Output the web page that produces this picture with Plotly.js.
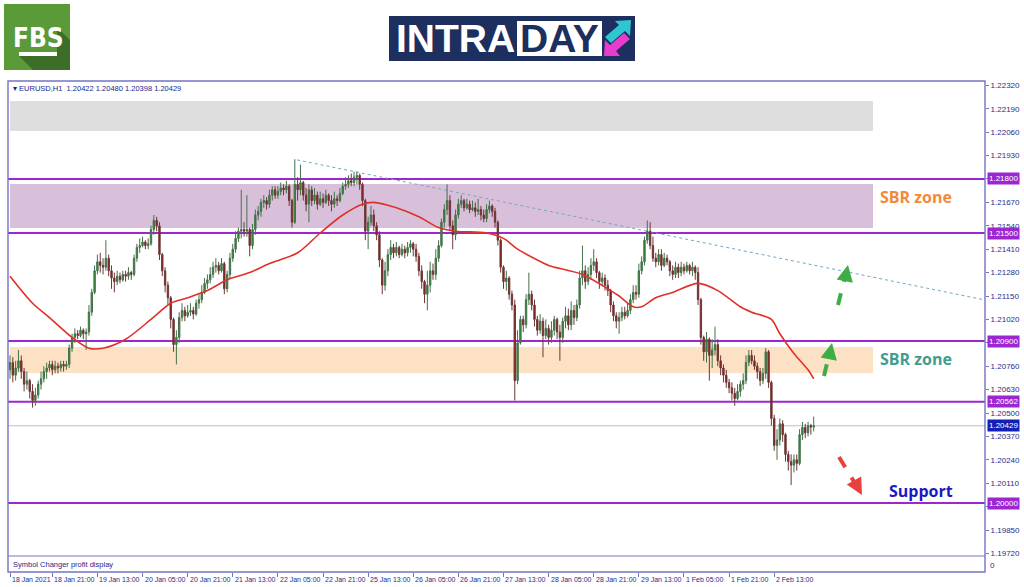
<!DOCTYPE html>
<html><head><meta charset="utf-8">
<script src="https://cdn.plot.ly/plotly-3.0.1.min.js"></script>
<style>html,body{margin:0;padding:0;background:#fff}#chart{width:1024px;height:587px}</style>
</head><body><div id="chart"></div>
<script>
// EURUSD H1 candles, 18 Jan 2021 06:00 .. 3 Feb 2021 03:00
const open = [
1.2074,1.2078,1.2071,1.2075,1.2079,1.2073,1.2066,1.2068,1.2062,1.2057,
1.2060,1.2066,1.2069,1.2073,1.2075,1.2077,1.2074,1.2076,1.2075,1.2077,
1.2076,1.2077,1.2086,1.2092,1.2094,1.2093,1.2096,1.2094,1.2095,1.2106,
1.2117,1.2129,1.2134,1.2132,1.2131,1.2136,1.2129,1.2125,1.2123,1.2126,
1.2124,1.2127,1.2126,1.2128,1.2127,1.2136,1.2142,1.2143,1.2145,1.2143,
1.2144,1.2152,1.2157,1.2154,1.2138,1.2129,1.2121,1.2114,1.2102,1.2088,
1.2092,1.2103,1.2107,1.2104,1.2106,1.2107,1.2105,1.2111,1.2113,1.2117,
1.2122,1.2124,1.2127,1.2131,1.2132,1.2129,1.2133,1.2119,1.2127,1.2136,
1.2141,1.2147,1.2151,1.2152,1.2151,1.2152,1.2143,1.2152,1.2160,1.2162,
1.2167,1.2168,1.2166,1.2171,1.2174,1.2171,1.2173,1.2175,1.2174,1.2176,
1.2168,1.2156,1.2177,1.2174,1.2178,1.2171,1.2166,1.2174,1.2168,1.2171,
1.2166,1.2169,1.2167,1.2171,1.2168,1.2166,1.2169,1.2168,1.2172,1.2176,
1.2177,1.2179,1.2178,1.2181,1.2182,1.2177,1.2168,1.2151,1.2156,1.2160,
1.2154,1.2149,1.2135,1.2121,1.2129,1.2138,1.2142,1.2139,1.2142,1.2138,
1.2141,1.2139,1.2142,1.2144,1.2141,1.2137,1.2129,1.2123,1.2116,1.2121,
1.2129,1.2127,1.2136,1.2143,1.2156,1.2163,1.2168,1.2154,1.2149,1.2160,
1.2166,1.2168,1.2164,1.2166,1.2163,1.2164,1.2162,1.2163,1.2160,1.2158,
1.2163,1.2165,1.2162,1.2156,1.2146,1.2131,1.2123,1.2125,1.2116,1.2110,
1.2068,1.2089,1.2102,1.2099,1.2113,1.2116,1.2110,1.2102,1.2096,1.2101,
1.2093,1.2097,1.2092,1.2096,1.2102,1.2095,1.2092,1.2101,1.2104,1.2099,
1.2107,1.2103,1.2110,1.2125,1.2129,1.2123,1.2127,1.2132,1.2134,1.2128,
1.2123,1.2125,1.2121,1.2118,1.2110,1.2104,1.2101,1.2103,1.2106,1.2104,
1.2107,1.2113,1.2117,1.2116,1.2129,1.2134,1.2146,1.2151,1.2143,1.2136,
1.2134,1.2138,1.2132,1.2136,1.2134,1.2129,1.2127,1.2131,1.2128,1.2131,
1.2129,1.2132,1.2129,1.2131,1.2128,1.2113,1.2092,1.2084,1.2091,1.2082,
1.2085,1.2088,1.2079,1.2075,1.2071,1.2067,1.2064,1.2061,1.2058,1.2062,
1.2066,1.2068,1.2078,1.2082,1.2079,1.2076,1.2073,1.2068,1.2072,1.2084,
1.2067,1.2047,1.2032,1.2035,1.2044,1.2038,1.2027,1.2023,1.2021,1.2024,
1.2022,1.2038,1.2042,1.2039,1.2043,1.20422];
const high = [
1.2082,1.2081,1.2079,1.2085,1.2082,1.2075,1.2073,1.2069,1.2066,1.2064,
1.2068,1.2073,1.2076,1.2078,1.2079,1.2079,1.2079,1.2078,1.2079,1.2079,
1.2079,1.2088,1.2094,1.2097,1.2096,1.2098,1.2097,1.2097,1.2110,1.2119,
1.2132,1.2138,1.2139,1.2136,1.2146,1.2138,1.2132,1.2128,1.2129,1.2128,
1.2129,1.2129,1.2131,1.2129,1.2138,1.2144,1.2147,1.2148,1.2146,1.2147,
1.2154,1.2160,1.2159,1.2156,1.2139,1.2131,1.2123,1.2115,1.2103,1.2096,
1.2106,1.2111,1.2109,1.2110,1.2111,1.2109,1.2113,1.2116,1.2121,1.2125,
1.2127,1.2131,1.2134,1.2136,1.2134,1.2136,1.2134,1.2129,1.2139,1.2144,
1.2151,1.2153,1.2174,1.2156,1.2171,1.2153,1.2155,1.2163,1.2165,1.2169,
1.2171,1.2170,1.2174,1.2176,1.2176,1.2176,1.2178,1.2177,1.2179,1.2177,
1.2169,1.2191,1.2181,1.2188,1.2179,1.2175,1.2177,1.2176,1.2175,1.2173,
1.2173,1.2172,1.2174,1.2172,1.2171,1.2173,1.2171,1.2175,1.2178,1.2181,
1.2182,1.2183,1.2184,1.2184,1.2183,1.2178,1.2169,1.2159,1.2165,1.2163,
1.2156,1.2151,1.2136,1.2134,1.2141,1.2146,1.2144,1.2145,1.2143,1.2144,
1.2143,1.2145,1.2146,1.2145,1.2144,1.2139,1.2132,1.2124,1.2129,1.2134,
1.2133,1.2141,1.2146,1.2158,1.2166,1.2177,1.2171,1.2157,1.2163,1.2169,
1.2171,1.2169,1.2169,1.2168,1.2168,1.2167,1.2169,1.2165,1.2163,1.2166,
1.2168,1.2166,1.2164,1.2157,1.2147,1.2132,1.2129,1.2126,1.2118,1.2113,
1.2096,1.2104,1.2104,1.2116,1.2128,1.2118,1.2113,1.2104,1.2105,1.2103,
1.2102,1.2099,1.2101,1.2104,1.2103,1.2099,1.2103,1.2109,1.2108,1.2112,
1.2110,1.2113,1.2129,1.2143,1.2132,1.2131,1.2136,1.2141,1.2136,1.2129,
1.2128,1.2127,1.2124,1.2119,1.2112,1.2106,1.2106,1.2109,1.2109,1.2111,
1.2116,1.2121,1.2121,1.2133,1.2137,1.2148,1.2157,1.2156,1.2148,1.2139,
1.2141,1.2141,1.2139,1.2138,1.2135,1.2132,1.2134,1.2133,1.2134,1.2133,
1.2134,1.2133,1.2134,1.2132,1.2131,1.2114,1.2093,1.2095,1.2092,1.2091,
1.2098,1.2091,1.2082,1.2077,1.2074,1.2069,1.2067,1.2064,1.2066,1.2068,
1.2072,1.2082,1.2085,1.2085,1.2082,1.2078,1.2075,1.2075,1.2086,1.2085,
1.2068,1.2049,1.2041,1.2047,1.2046,1.2039,1.2029,1.2027,1.2027,1.2027,
1.2041,1.2045,1.2044,1.2045,1.2044,1.20480];
const low = [
1.2069,1.2067,1.2068,1.2073,1.2069,1.2062,1.2063,1.2058,1.2053,1.2054,
1.2058,1.2063,1.2067,1.2069,1.2073,1.2071,1.2072,1.2072,1.2073,1.2073,
1.2074,1.2075,1.2084,1.2089,1.2091,1.2092,1.2091,1.2085,1.2093,1.2104,
1.2116,1.2127,1.2128,1.2127,1.2129,1.2126,1.2119,1.2117,1.2121,1.2122,
1.2123,1.2123,1.2124,1.2124,1.2126,1.2134,1.2139,1.2142,1.2141,1.2141,
1.2143,1.2149,1.2151,1.2135,1.2126,1.2117,1.2110,1.2097,1.2084,1.2077,
1.2089,1.2101,1.2101,1.2103,1.2104,1.2102,1.2104,1.2108,1.2111,1.2116,
1.2119,1.2122,1.2125,1.2128,1.2127,1.2128,1.2116,1.2117,1.2125,1.2134,
1.2139,1.2145,1.2147,1.2148,1.2148,1.2137,1.2141,1.2149,1.2157,1.2159,
1.2164,1.2163,1.2164,1.2168,1.2169,1.2169,1.2171,1.2171,1.2172,1.2165,
1.2153,1.2155,1.2168,1.2171,1.2168,1.2162,1.2156,1.2165,1.2166,1.2163,
1.2165,1.2164,1.2166,1.2165,1.2162,1.2164,1.2165,1.2167,1.2171,1.2174,
1.2175,1.2176,1.2176,1.2177,1.2174,1.2165,1.2146,1.2141,1.2154,1.2151,
1.2146,1.2131,1.2116,1.2118,1.2126,1.2135,1.2136,1.2137,1.2136,1.2137,
1.2136,1.2137,1.2139,1.2137,1.2134,1.2126,1.2119,1.2111,1.2107,1.2117,
1.2124,1.2124,1.2134,1.2142,1.2153,1.2160,1.2151,1.2141,1.2146,1.2158,
1.2164,1.2162,1.2163,1.2161,1.2162,1.2159,1.2160,1.2157,1.2156,1.2156,
1.2161,1.2159,1.2153,1.2143,1.2128,1.2119,1.2118,1.2113,1.2107,1.2057,
1.2066,1.2088,1.2095,1.2097,1.2110,1.2107,1.2098,1.2093,1.2094,1.2081,
1.2091,1.2088,1.2089,1.2093,1.2091,1.2079,1.2089,1.2097,1.2096,1.2096,
1.2099,1.2101,1.2108,1.2121,1.2119,1.2121,1.2124,1.2129,1.2125,1.2119,
1.2121,1.2118,1.2115,1.2106,1.2101,1.2097,1.2094,1.2101,1.2102,1.2103,
1.2105,1.2111,1.2113,1.2114,1.2127,1.2132,1.2144,1.2141,1.2134,1.2131,
1.2132,1.2129,1.2131,1.2132,1.2126,1.2124,1.2125,1.2125,1.2126,1.2127,
1.2128,1.2127,1.2126,1.2124,1.2110,1.2088,1.2079,1.2078,1.2068,1.2075,
1.2082,1.2076,1.2071,1.2067,1.2064,1.2061,1.2057,1.2054,1.2057,1.2059,
1.2063,1.2066,1.2076,1.2077,1.2074,1.2069,1.2065,1.2066,1.2069,1.2064,
1.2043,1.2029,1.2024,1.2032,1.2034,1.2023,1.2018,1.2010,1.2017,1.2018,
1.2021,1.2035,1.2036,1.2037,1.2038,1.20398];
const close = [
1.2078,1.2071,1.2075,1.2079,1.2073,1.2066,1.2068,1.2062,1.2057,1.2060,
1.2066,1.2069,1.2073,1.2075,1.2077,1.2074,1.2076,1.2075,1.2077,1.2076,
1.2077,1.2086,1.2092,1.2094,1.2093,1.2096,1.2094,1.2095,1.2106,1.2117,
1.2129,1.2134,1.2132,1.2131,1.2136,1.2129,1.2125,1.2123,1.2126,1.2124,
1.2127,1.2126,1.2128,1.2127,1.2136,1.2142,1.2143,1.2145,1.2143,1.2144,
1.2152,1.2157,1.2154,1.2138,1.2129,1.2121,1.2114,1.2102,1.2088,1.2092,
1.2103,1.2107,1.2104,1.2106,1.2107,1.2105,1.2111,1.2113,1.2117,1.2122,
1.2124,1.2127,1.2131,1.2132,1.2129,1.2133,1.2119,1.2127,1.2136,1.2141,
1.2147,1.2151,1.2152,1.2151,1.2152,1.2143,1.2152,1.2160,1.2162,1.2167,
1.2168,1.2166,1.2171,1.2174,1.2171,1.2173,1.2175,1.2174,1.2176,1.2168,
1.2156,1.2177,1.2174,1.2178,1.2171,1.2166,1.2174,1.2168,1.2171,1.2166,
1.2169,1.2167,1.2171,1.2168,1.2166,1.2169,1.2168,1.2172,1.2176,1.2177,
1.2179,1.2178,1.2181,1.2182,1.2177,1.2168,1.2151,1.2156,1.2160,1.2154,
1.2149,1.2135,1.2121,1.2129,1.2138,1.2142,1.2139,1.2142,1.2138,1.2141,
1.2139,1.2142,1.2144,1.2141,1.2137,1.2129,1.2123,1.2116,1.2121,1.2129,
1.2127,1.2136,1.2143,1.2156,1.2163,1.2168,1.2154,1.2149,1.2160,1.2166,
1.2168,1.2164,1.2166,1.2163,1.2164,1.2162,1.2163,1.2160,1.2158,1.2163,
1.2165,1.2162,1.2156,1.2146,1.2131,1.2123,1.2125,1.2116,1.2110,1.2068,
1.2089,1.2102,1.2099,1.2113,1.2116,1.2110,1.2102,1.2096,1.2101,1.2093,
1.2097,1.2092,1.2096,1.2102,1.2095,1.2092,1.2101,1.2104,1.2099,1.2107,
1.2103,1.2110,1.2125,1.2129,1.2123,1.2127,1.2132,1.2134,1.2128,1.2123,
1.2125,1.2121,1.2118,1.2110,1.2104,1.2101,1.2103,1.2106,1.2104,1.2107,
1.2113,1.2117,1.2116,1.2129,1.2134,1.2146,1.2151,1.2143,1.2136,1.2134,
1.2138,1.2132,1.2136,1.2134,1.2129,1.2127,1.2131,1.2128,1.2131,1.2129,
1.2132,1.2129,1.2131,1.2128,1.2113,1.2092,1.2084,1.2091,1.2082,1.2085,
1.2088,1.2079,1.2075,1.2071,1.2067,1.2064,1.2061,1.2058,1.2062,1.2066,
1.2068,1.2078,1.2082,1.2079,1.2076,1.2073,1.2068,1.2072,1.2084,1.2067,
1.2047,1.2032,1.2035,1.2044,1.2038,1.2027,1.2023,1.2021,1.2024,1.2022,
1.2038,1.2042,1.2039,1.2043,1.20422,1.20429];

// moving average (red line), sampled at these bars
const maBar = [0,8,14,22,28,33,41,50,57,63,70,77,85,92,102,110,118,125,129,137,145,152,158,169,175,180,187,191,203,213,216,221,224,229,235,244,251,259,263,270,273,278,283,285];
const maValue = [1.2126,1.2111,1.2103,1.2092,1.2086,1.2086,1.2091,1.2102,1.2111,1.2114,1.2118,1.2124,1.2128,1.2133,1.2139,1.2150,1.2160,1.2166,1.2167,1.2164,1.2159,1.2153,1.2151,1.2150,1.2147,1.2141,1.2135,1.2132,1.2127,1.2118,1.2115,1.2109,1.2109,1.2114,1.2117,1.2122,1.2118,1.2109,1.2106,1.2102,1.2094,1.2083,1.2074,1.2069];

// horizontal levels and zones
const levelPrices = [1.21800, 1.21500, 1.20900, 1.20562, 1.20000];
const lastPrice = 1.20429;
const greyZone = [1.22067, 1.22233];
const upperZone = [1.21528, 1.21772];
const lowerZone = [1.20722, 1.20867];
const trendBars = [101.8, 345.7];
const trendPrices = [1.21906, 1.21128];

// axis labels (1.20890 and 1.19980 sit under the highlighted level labels)
const yTicks = [1.2232,1.2219,1.2206,1.2193,1.2180,1.2167,1.2154,1.2141,1.2128,1.2115,1.2102,1.2089,1.2076,1.2063,1.2050,1.2037,1.2024,1.2011,1.1998,1.1985,1.1972];
const hiddenTicks = [1.2089, 1.1998];
const tickTimes = ['2021-01-18 06:00','2021-01-18 21:00','2021-01-19 13:00','2021-01-20 05:00','2021-01-20 21:00','2021-01-21 13:00','2021-01-22 05:00','2021-01-22 21:00','2021-01-25 13:00','2021-01-26 05:00','2021-01-26 21:00','2021-01-27 13:00','2021-01-28 05:00','2021-01-28 21:00','2021-01-29 13:00','2021-02-01 05:00','2021-02-01 21:00','2021-02-02 13:00'];
const tickText = ['18 Jan 2021','18 Jan 21:00','19 Jan 13:00','20 Jan 05:00','20 Jan 21:00','21 Jan 13:00','22 Jan 05:00','22 Jan 21:00','25 Jan 13:00','26 Jan 05:00','26 Jan 21:00','27 Jan 13:00','28 Jan 05:00','28 Jan 21:00','29 Jan 13:00','1 Feb 05:00','1 Feb 21:00','2 Feb 13:00'];

// hourly timestamps (weekends skipped)
const pad = n => String(n).padStart(2,'0');
const times = [];
let t = Date.UTC(2021,0,18,6);
for (let i = 0; i < close.length; i++) {
  const d = new Date(t);
  times.push(d.getUTCFullYear()+'-'+pad(d.getUTCMonth()+1)+'-'+pad(d.getUTCDate())+' '+pad(d.getUTCHours())+':00');
  t += 3600e3;
  if (new Date(t).getUTCDay() === 6) t += 48*3600e3;
}
const bars = times.map((_, i) => i);
const tickPos = tickTimes.map(s => times.indexOf(s));

// pixel helpers for decorations (plot area 8..985 x 81..572)
const L = 8, R = 985, T = 81, B = 572;
const px = x => (x - L) / (R - L);
const py = y => (B - y) / (B - T);
const pathOf = pts => 'M ' + pts.map(p => px(p[0]) + ',' + py(p[1])).join(' L ') + ' Z';

const FRAME = '#7474c4', PURPLE = '#9c27d0', TXT = '#2b2b8c';
const small = 'Liberation Sans, Arial, sans-serif';

const traces = [
  {type:'candlestick', x:bars, open, high, low, close, text:times, hoverinfo:'text',
   whiskerwidth:0,
   increasing:{line:{color:'#44704a', width:1}, fillcolor:'#2c912c'},
   decreasing:{line:{color:'#6e3636', width:1}, fillcolor:'#8e1b1b'}},
  {type:'scatter', mode:'lines', x:maBar, y:maValue, hoverinfo:'skip',
   line:{color:'#e0302a', width:1.6, shape:'spline', smoothing:0.8}}
];

const shapes = [
  {type:'rect', layer:'below', xref:'paper', yref:'y', x0:px(10), x1:px(873), y0:greyZone[0], y1:greyZone[1], fillcolor:'#dedede', line:{width:0}},
  {type:'rect', layer:'below', xref:'paper', yref:'y', x0:px(10), x1:px(873), y0:upperZone[0], y1:upperZone[1], fillcolor:'#d8c0da', line:{width:0}},
  {type:'rect', layer:'below', xref:'paper', yref:'y', x0:px(10), x1:px(873), y0:lowerZone[0], y1:lowerZone[1], fillcolor:'#fde1c4', line:{width:0}},
  {type:'line', layer:'below', xref:'paper', yref:'y', x0:0, x1:1, y0:lastPrice, y1:lastPrice, line:{color:'#c0c0c0', width:1}},
  {type:'line', layer:'below', xref:'x', yref:'y', x0:trendBars[0], x1:trendBars[1], y0:trendPrices[0], y1:trendPrices[1], line:{color:'#6fa8c0', width:1, dash:'dot'}},
  {type:'line', xref:'paper', yref:'paper', x0:0, x1:1, y0:py(556), y1:py(556), line:{color:FRAME, width:1.2}},
  {type:'rect', xref:'paper', yref:'paper', x0:0, x1:1, y0:0, y1:1, line:{color:FRAME, width:1.4}},
  {type:'line', xref:'paper', yref:'paper', x0:px(838), y0:py(305), x1:px(846), y1:py(273), line:{color:'#3cae45', width:4, dash:'dash'}},
  {type:'line', xref:'paper', yref:'paper', x0:px(824), y0:py(376), x1:px(830), y1:py(351), line:{color:'#3cae45', width:4, dash:'dash'}},
  {type:'line', xref:'paper', yref:'paper', x0:px(839), y0:py(457), x1:px(856), y1:py(485), line:{color:'#e8403c', width:4, dash:'dash'}},
  {type:'rect', xref:'paper', yref:'paper', x0:px(4), x1:px(70), y0:py(70), y1:py(4), fillcolor:'#5a9a38', line:{width:0}},
  {type:'path', xref:'paper', yref:'paper', path:pathOf([[19,56],[57,56],[57,27],[70,40],[70,70],[33,70]]), fillcolor:'#3d6e27', line:{width:0}},
  {type:'rect', xref:'paper', yref:'paper', x0:px(19), x1:px(57), y0:py(56), y1:py(52), fillcolor:'#ffffff', line:{width:0}},
  {type:'rect', xref:'paper', yref:'paper', x0:px(389), x1:px(635), y0:py(61), y1:py(16), fillcolor:'#1c2f5e', line:{width:0}},
  {type:'rect', xref:'paper', yref:'paper', x0:px(517), x1:px(602), y0:py(56), y1:py(21), fillcolor:'#ffffff', line:{width:0}},
  {type:'path', xref:'paper', yref:'paper', path:pathOf([[631,20],[630,36],[625,31],[611,43],[605,37],[619,25],[615,21]]), fillcolor:'#2ec6d2', line:{width:0}},
  {type:'path', xref:'paper', yref:'paper', path:pathOf([[604,56],[605,40],[610,45],[624,33],[630,39],[616,51],[620,56]]), fillcolor:'#e83ccc', line:{width:0}}
];
levelPrices.forEach(p => shapes.splice(3, 0, {type:'line', layer:'below', xref:'paper', yref:'y', x0:0, x1:1, y0:p, y1:p, line:{color:PURPLE, width:2}}));

const annotations = [];
levelPrices.forEach(p => annotations.push({xref:'paper', yref:'y', x:1, y:p, xanchor:'left', yanchor:'middle', xshift:2, text:p.toFixed(5), showarrow:false, bgcolor:PURPLE, borderpad:1, font:{family:small, size:8, color:'#ffffff'}}));
annotations.push({xref:'paper', yref:'y', x:1, y:lastPrice, xanchor:'left', yanchor:'middle', xshift:2, text:lastPrice.toFixed(5), showarrow:false, bgcolor:'#1420b4', borderpad:1, font:{family:small, size:8, color:'#ffffff'}});
tickPos.forEach((b, k) => annotations.push({xref:'x', yref:'paper', x:b, y:py(579), xanchor:'left', yanchor:'middle', xshift:0, text:tickText[k], showarrow:false, font:{family:small, size:7, color:TXT}}));
annotations.push(
  {xref:'paper', yref:'paper', x:px(11), y:py(88), xanchor:'left', yanchor:'middle', text:'▾ EURUSD,H1  1.20422 1.20480 1.20398 1.20429', showarrow:false, font:{family:small, size:7.5, color:'#1e1e8c'}},
  {xref:'paper', yref:'paper', x:px(11), y:py(564), xanchor:'left', yanchor:'middle', text:'Symbol Changer profit display', showarrow:false, font:{family:small, size:7.5, color:'#1e1e8c'}},
  {xref:'paper', yref:'paper', x:1, y:py(565), xanchor:'left', yanchor:'middle', xshift:3, text:'0', showarrow:false, font:{family:small, size:8, color:TXT}},
  {xref:'paper', yref:'paper', x:px(878), y:py(197), xanchor:'left', yanchor:'middle', text:'<b>SBR zone</b>', showarrow:false, font:{family:'Open Sans, sans-serif', size:16, color:'#f28a3a'}},
  {xref:'paper', yref:'paper', x:px(878), y:py(359), xanchor:'left', yanchor:'middle', text:'<b>SBR zone</b>', showarrow:false, font:{family:'Open Sans, sans-serif', size:16, color:'#3f9d8e'}},
  {xref:'paper', yref:'paper', x:px(887), y:py(491), xanchor:'left', yanchor:'middle', text:'<b>Support</b>', showarrow:false, font:{family:'Open Sans, sans-serif', size:16, color:'#1818c8'}},
  {xref:'paper', yref:'paper', x:px(848), y:py(265), ax:-2, ay:10, text:'', showarrow:true, arrowhead:2, arrowsize:1.1, arrowwidth:3, arrowcolor:'#3cae45', standoff:0},
  {xref:'paper', yref:'paper', x:px(832), y:py(343), ax:-2, ay:10, text:'', showarrow:true, arrowhead:2, arrowsize:1.1, arrowwidth:3, arrowcolor:'#3cae45', standoff:0},
  {xref:'paper', yref:'paper', x:px(862), y:py(495), ax:-5, ay:-9, text:'', showarrow:true, arrowhead:2, arrowsize:1.1, arrowwidth:3, arrowcolor:'#e8403c', standoff:0},
  {xref:'paper', yref:'paper', x:px(38), y:py(38), xanchor:'center', yanchor:'middle', text:'<b>FBS</b>', showarrow:false, font:{family:'Liberation Sans Narrow, DejaVu Sans Condensed, Arial Narrow, sans-serif', size:26, color:'#ffffff'}},
  {xref:'paper', yref:'paper', x:px(394), y:py(39), xanchor:'left', yanchor:'middle', text:'<b>INTRA</b>', showarrow:false, font:{family:'Liberation Sans, Arial, sans-serif', size:39, color:'#ffffff'}},
  {xref:'paper', yref:'paper', x:px(559), y:py(39), xanchor:'center', yanchor:'middle', text:'<b>DAY</b>', showarrow:false, font:{family:'Liberation Sans, Arial, sans-serif', size:39, color:'#1c2f5e'}}
);

const layout = {
  width:1024, height:587,
  margin:{l:8, r:39, t:81, b:15, pad:0},
  paper_bgcolor:'#ffffff', plot_bgcolor:'#ffffff',
  showlegend:false, hovermode:'closest',
  xaxis:{type:'linear', range:[-0.71, 345.75], showgrid:false, zeroline:false, showline:false,
    tickvals:tickPos, showticklabels:false, ticks:'outside', ticklen:4, tickcolor:FRAME,
    rangeslider:{visible:false}, fixedrange:true},
  yaxis:{side:'right', range:[1.196167, 1.223444], showgrid:false, zeroline:false, showline:false,
    tickvals:yTicks, ticktext:yTicks.map(v => hiddenTicks.includes(v) ? '' : v.toFixed(5)),
    ticks:'outside', ticklen:3, tickcolor:FRAME,
    tickfont:{family:small, size:8, color:TXT}, fixedrange:true},
  shapes, annotations
};

Plotly.newPlot('chart', traces, layout, {displayModeBar:false, staticPlot:true});
</script>
</body></html>
